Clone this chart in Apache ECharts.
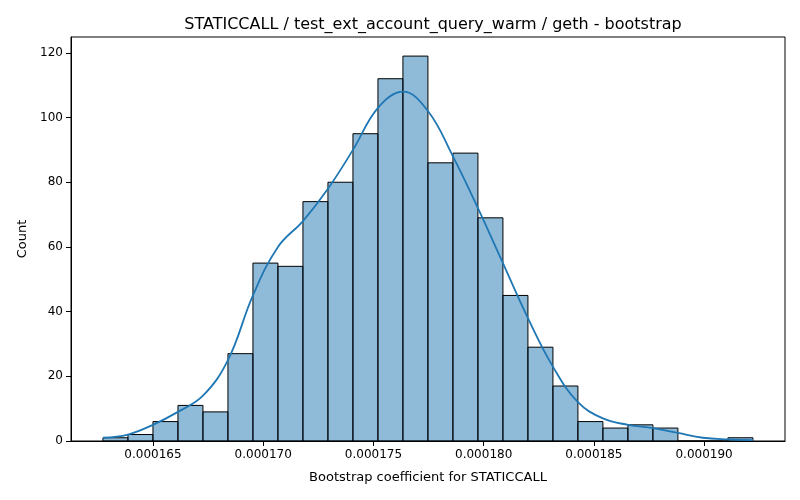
<!DOCTYPE html>
<html>
<head>
<meta charset="utf-8">
<script src="https://cdn.jsdelivr.net/npm/echarts@6.0.0/dist/echarts.min.js"></script>
<style>body{margin:0}#chart-container{width:800px;height:500px}</style>
</head>
<body>
<div id="chart-container"></div>
<script>
// histogram bins
const binStart = 0.00016273;
const binWidth = 0.000001134;
const counts = [1, 2, 6, 11, 9, 27, 55, 54, 74, 80, 95, 112, 119, 86, 89, 69, 45, 29, 17, 6, 4, 5, 4, 0, 0, 1];
// kde read at bin edges
const kde = [1, 2, 5, 9, 14, 25, 45, 60, 68, 78, 90, 103, 108, 102, 88, 72, 55, 38, 23, 12, 7, 5, 4, 2.5, 1, 0.5, 0.3];
const meanLine = 0.00017589;
const xTicks = [0.000165, 0.000170, 0.000175, 0.000180, 0.000185, 0.000190];
const yTicks = [0, 20, 40, 60, 80, 100, 120];

const chart = echarts.init(document.getElementById('chart-container'));
const bars = counts.map((c, i) => [binStart + i * binWidth, binStart + (i + 1) * binWidth, c]);
const kdeData = kde.map((v, i) => [binStart + i * binWidth, v]);
const font = 'DejaVu Sans';

chart.setOption({
  animation: false,
  textStyle: { fontFamily: font },
  title: { text: 'STATICCALL / test_ext_account_query_warm / geth - bootstrap', left: 428, top: 12, textAlign: 'center',
    textStyle: { fontSize: 16, fontWeight: 'normal', color: '#000', fontFamily: font } },
  grid: { left: 71, right: 15, top: 37, bottom: 59, show: true, borderColor: '#000', borderWidth: 1 },
  xAxis: {
    type: 'value', min: 0.00016128, max: 0.00019367,
    name: 'Bootstrap coefficient for STATICCALL', nameLocation: 'middle', nameGap: 30,
    nameTextStyle: { fontSize: 13, color: '#000' },
    splitLine: { show: false },
    axisLine: { lineStyle: { color: '#000' } },
    axisTick: { customValues: xTicks, lineStyle: { color: '#000' } },
    axisLabel: { customValues: xTicks, fontSize: 12, color: '#000', formatter: v => v.toFixed(6) }
  },
  yAxis: {
    type: 'value', min: 0, max: 124.9,
    name: 'Count', nameLocation: 'middle', nameGap: 42,
    nameTextStyle: { fontSize: 13, color: '#000' },
    splitLine: { show: false },
    axisLine: { show: true, lineStyle: { color: '#000' } },
    axisTick: { show: true, customValues: yTicks, lineStyle: { color: '#000' } },
    axisLabel: { customValues: yTicks, fontSize: 12, color: '#000' }
  },
  series: [
    {
      type: 'custom', data: bars,
      renderItem: (params, api) => {
        const p0 = api.coord([api.value(0), api.value(2)]);
        const p1 = api.coord([api.value(1), 0]);
        return { type: 'rect', shape: { x: p0[0], y: p0[1], width: p1[0] - p0[0], height: p1[1] - p0[1] },
          style: { fill: 'rgba(31,119,180,0.5)', stroke: '#000', lineWidth: 1 } };
      },
      encode: { x: [0, 1], y: 2 }
    },
    {
      type: 'line', data: kdeData, smooth: 0.4, showSymbol: false,
      lineStyle: { color: '#1f77b4', width: 1.8 }
    },
    {
      type: 'line', data: [], markLine: {
        symbol: 'none', silent: true, label: { show: false },
        lineStyle: { color: '#d62728', type: [4, 2], width: 1 },
        data: [{ xAxis: meanLine }]
      }
    }
  ]
});
</script>
</body>
</html>
